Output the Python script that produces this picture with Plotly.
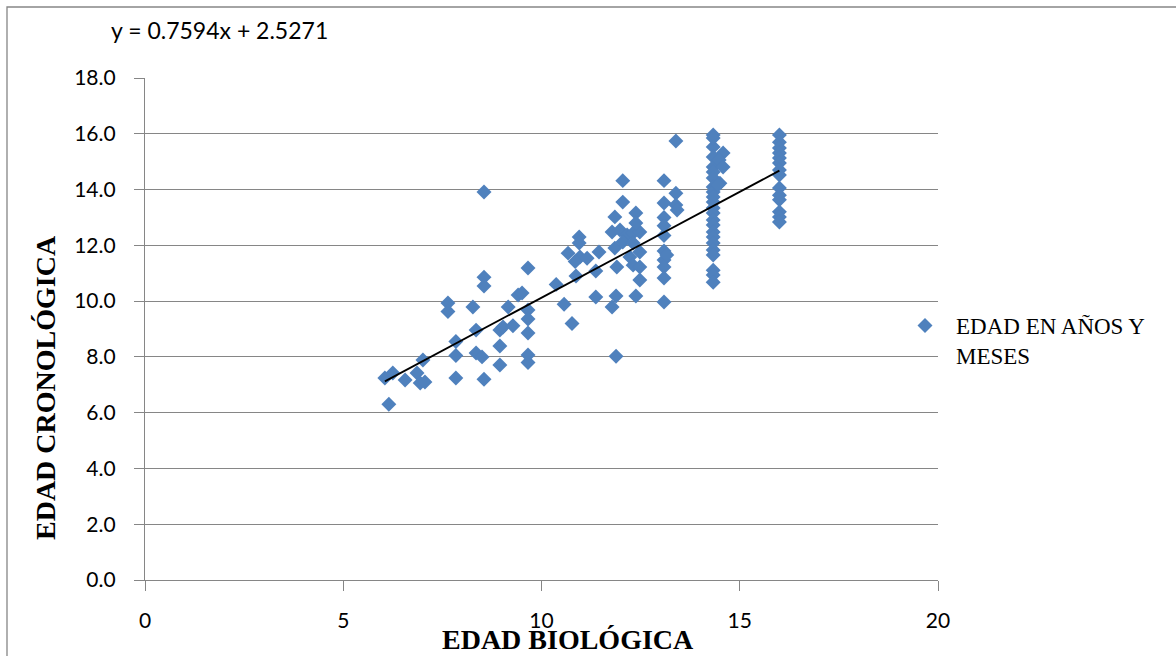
import plotly.graph_objects as go

# Data (EDAD BIOLÓGICA, EDAD CRONOLÓGICA)
edad_biologica = [
    6.05, 6.25, 6.15, 6.56, 6.86, 7.01, 6.94, 7.06,
    7.64, 7.64, 7.84, 7.84, 7.84, 8.27, 8.35, 8.35, 8.50, 8.55, 8.55, 8.55, 8.55,
    8.95, 8.95, 8.95, 9.16, 9.03, 9.28, 9.41, 9.51,
    9.66, 9.66, 9.66, 9.66, 9.66, 9.66,
    10.37, 10.57, 10.77, 10.95, 10.95, 10.67, 10.97, 10.85, 11.15, 11.45, 11.37, 10.87,
    11.37, 11.78, 11.88, 11.88,
    12.05, 12.05, 11.85, 11.78, 11.98, 12.16, 12.31, 12.48, 11.85, 12.05, 12.31,
    12.48, 12.23, 11.90, 12.31, 12.48, 12.48, 12.38, 12.38, 12.38,
    13.09, 13.09, 13.09, 13.09, 13.09, 13.09, 13.09, 13.09, 13.09, 13.09, 13.16,
    13.39, 13.39, 13.39, 13.42,
    14.33, 14.33, 14.33, 14.33, 14.33, 14.33, 14.33, 14.33, 14.33, 14.33, 14.33, 14.33,
    14.33, 14.33, 14.33, 14.33, 14.33, 14.33, 14.33, 14.33, 14.33, 14.33, 14.33,
    14.58, 14.48, 14.50, 14.58, 14.45,
    16.0, 16.0, 16.0, 16.0, 16.0, 16.0, 16.0, 16.0, 16.0, 16.0, 16.0, 16.0, 16.0, 16.0,
]
edad_cronologica = [
    7.24, 7.42, 6.30, 7.17, 7.42, 7.89, 7.06, 7.10,
    9.93, 9.63, 8.55, 8.05, 7.24, 9.79, 8.96, 8.14, 8.00, 7.20, 13.91, 10.86, 10.54,
    8.96, 8.39, 7.71, 9.79, 9.07, 9.12, 10.22, 10.29,
    11.19, 9.68, 9.36, 8.86, 8.07, 7.80,
    10.60, 9.89, 9.20, 12.30, 12.08, 11.72, 11.58, 11.42, 11.54, 11.76, 11.08, 10.90,
    10.15, 9.79, 10.18, 8.02,
    14.32, 13.55, 13.02, 12.48, 12.55, 12.37, 12.44, 12.48, 11.90, 12.12, 12.08,
    11.76, 11.58, 11.22, 11.29, 11.22, 10.76, 10.18, 13.16, 12.80,
    14.32, 13.52, 13.00, 12.70, 12.35, 11.80, 11.47, 11.22, 10.83, 9.97, 11.65,
    15.74, 13.87, 13.45, 13.27,
    15.96, 15.53, 15.17, 14.81, 14.63, 14.41, 14.09, 13.91, 13.73, 13.55, 13.34, 13.16,
    12.91, 12.73, 12.48, 12.30, 12.08, 11.83, 11.65, 11.11, 10.94, 10.68, 15.85,
    15.31, 15.06, 14.23, 14.81, 14.16,
    15.96, 15.70, 15.49, 15.31, 15.13, 14.95, 14.70, 14.52, 14.06, 13.80, 13.63, 13.20, 13.02, 12.84,
]

# Linear trend shown in the chart
pendiente = 0.7594
intercepto = 2.5271
x_tick_vals = [0, 5, 10, 15, 20]
y_tick_vals = [0, 2, 4, 6, 8, 10, 12, 14, 16, 18]
serie_nombre = "EDAD EN AÑOS Y<br>MESES"

trend_x = [min(edad_biologica), max(edad_biologica)]
trend_y = [pendiente * v + intercepto for v in trend_x]

W, H = 1176, 656
L, R, T, B = 145, 238, 78, 76
pw, ph = W - L - R, H - T - B


def px_x(p):
    return (p - L) / pw


def px_y(p):
    return (H - B - p) / ph


fig = go.Figure()
fig.add_trace(go.Scatter(
    x=edad_biologica, y=edad_cronologica, mode="markers",
    name=serie_nombre,
    marker=dict(symbol="diamond", size=11.5, color="#4F81BD", line=dict(width=0)),
))
fig.add_trace(go.Scatter(
    x=trend_x, y=trend_y, mode="lines", showlegend=False,
    line=dict(color="black", width=1.8), hoverinfo="skip",
))

grid_col = "#868686"
fig.update_layout(
    width=W, height=H,
    margin=dict(l=L, r=R, t=T, b=B, pad=0),
    paper_bgcolor="white", plot_bgcolor="white",
    font=dict(family="Lato", size=21, color="black"),
    showlegend=True,
    legend=dict(
        x=px_x(894), y=px_y(304), xanchor="left", yanchor="top",
        font=dict(family="Liberation Serif", size=23, color="black"),
        valign="top", bgcolor="rgba(0,0,0,0)", borderwidth=0,
        itemwidth=52,
    ),
    xaxis=dict(
        range=[0, 20], tickvals=x_tick_vals, showgrid=False, zeroline=False,
        showline=True, linecolor=grid_col, linewidth=1.3,
        ticks="outside", ticklen=10, tickcolor=grid_col, tickwidth=1.3,
        ticklabelstandoff=12,
        tickfont=dict(family="Lato", size=21),
    ),
    yaxis=dict(
        range=[0, 18], tickvals=y_tick_vals, tickformat=".1f",
        showgrid=True, gridcolor=grid_col, gridwidth=1.3, zeroline=False,
        showline=True, linecolor=grid_col, linewidth=1.3,
        ticks="outside", ticklen=10, tickcolor=grid_col, tickwidth=1.3,
        ticklabelstandoff=14,
        tickfont=dict(family="Lato", size=21),
    ),
    annotations=[
        dict(text="y = 0.7594x + 2.5271", xref="paper", yref="paper",
             x=px_x(109), y=px_y(30), xanchor="left", yanchor="middle",
             showarrow=False, font=dict(family="Lato", size=23)),
        dict(text="<b>EDAD CRONOLÓGICA</b>", xref="paper", yref="paper",
             x=px_x(45), y=px_y(388), xanchor="center", yanchor="middle",
             textangle=-90, showarrow=False,
             font=dict(family="Liberation Serif", size=28)),
        dict(text="<b>EDAD BIOLÓGICA</b>", xref="paper", yref="paper",
             x=px_x(568), y=px_y(639), xanchor="center", yanchor="middle",
             showarrow=False, font=dict(family="Liberation Serif", size=28)),
    ],
    shapes=[
        dict(type="rect", xref="paper", yref="paper",
             x0=px_x(7), x1=px_x(1190), y0=px_y(7), y1=px_y(670),
             line=dict(color=grid_col, width=1.3), fillcolor="rgba(0,0,0,0)",
             layer="below"),
    ],
)

fig.write_html("out.html")
